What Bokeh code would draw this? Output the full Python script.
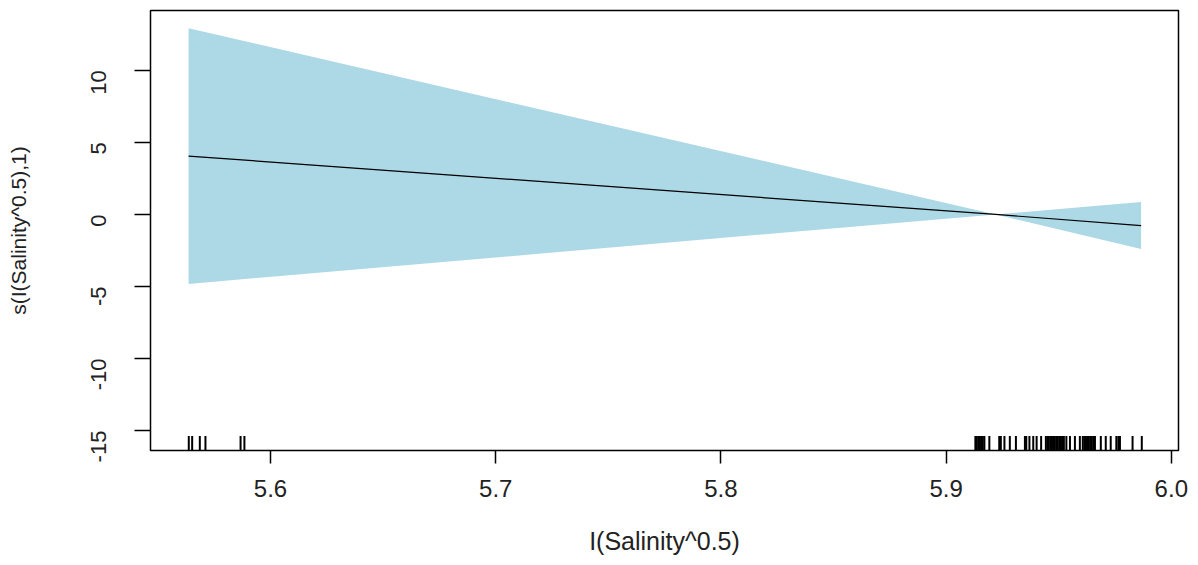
import math
from bokeh.plotting import figure
from bokeh.models import Range1d, FixedTicker, ColumnDataSource
from bokeh.embed import file_html
from bokeh.resources import INLINE

# ---- data ----
fit_x = [5.5636, 5.9220, 5.9866]
fit_y = [4.05, 0.00, -0.78]
band_upper = [12.92, 0.00, 0.86]
band_lower = [-4.82, 0.00, -2.40]

rug_x = [
    5.5637, 5.5652, 5.5686, 5.5711, 5.5867, 5.5884,
    5.9130, 5.9136, 5.9143, 5.9150, 5.9156, 5.9163, 5.9170, 5.9192,
    5.9236, 5.9243, 5.9259, 5.9283, 5.9310, 5.9350, 5.9356, 5.9370,
    5.9387, 5.9402, 5.9422, 5.9443, 5.9450, 5.9456, 5.9463, 5.9470,
    5.9476, 5.9483, 5.9490, 5.9496, 5.9503, 5.9510, 5.9516, 5.9523,
    5.9534, 5.9550, 5.9572, 5.9594, 5.9607, 5.9614, 5.9621, 5.9627,
    5.9634, 5.9641, 5.9647, 5.9654, 5.9661, 5.9687, 5.9709, 5.9731,
    5.9756, 5.9765, 5.9772, 5.9828, 5.9869,
]

x_ticks = [5.6, 5.7, 5.8, 5.9, 6.0]
x_tick_labels = ["5.6", "5.7", "5.8", "5.9", "6.0"]
y_ticks = [-15, -10, -5, 0, 5, 10]
y_tick_labels = ["-15", "-10", "-5", "0", "5", "10"]

x_title = "I(Salinity^0.5)"
y_title = "s(I(Salinity^0.5),1)"

X_MIN, X_MAX = 5.5467, 6.0032
Y_MIN, Y_MAX = -16.38, 14.15

p = figure(
    width=1190, height=557,
    x_range=Range1d(X_MIN, X_MAX), y_range=Range1d(Y_MIN, Y_MAX),
    output_backend="svg", toolbar_location=None,
    min_border_left=150, min_border_right=12,
    min_border_top=10, min_border_bottom=105,
)
p.background_fill_color = "white"
p.border_fill_color = "white"
p.outline_line_color = "black"
p.outline_line_width = 1.5
p.xgrid.visible = False
p.ygrid.visible = False

# confidence band
p.varea(x=fit_x, y1=band_lower, y2=band_upper, fill_color="#ADD8E6", fill_alpha=1.0)
# fitted line
p.line(fit_x, fit_y, line_color="black", line_width=1.2)

# rug
rug_len = 1.0
rug_src = ColumnDataSource(dict(
    x=rug_x,
    y0=[Y_MIN] * len(rug_x),
    y1=[Y_MIN + rug_len] * len(rug_x),
))
p.segment(x0="x", y0="y0", x1="x", y1="y1", source=rug_src,
          line_color="black", line_width=2)

font = "Liberation Sans"

# x axis
xa = p.xaxis[0]
xa.ticker = FixedTicker(ticks=x_ticks)
xa.major_label_overrides = {t: l for t, l in zip(x_ticks, x_tick_labels)}
xa.axis_line_color = None
xa.major_tick_in = 0
xa.major_tick_out = 13
xa.major_tick_line_color = "black"
xa.major_tick_line_width = 1.5
xa.minor_tick_line_color = None
xa.major_label_text_font = font
xa.major_label_text_font_size = "24px"
xa.major_label_text_color = "#222222"
xa.major_label_standoff = 16
xa.axis_label = x_title
xa.axis_label_text_font = font
xa.axis_label_text_font_size = "25px"
xa.axis_label_text_font_style = "normal"
xa.axis_label_text_color = "#222222"
xa.axis_label_standoff = 27

# y axis
ya = p.yaxis[0]
ya.ticker = FixedTicker(ticks=y_ticks)
ya.major_label_overrides = {t: l for t, l in zip(y_ticks, y_tick_labels)}
ya.axis_line_color = None
ya.major_tick_in = 0
ya.major_tick_out = 16
ya.major_tick_line_color = "black"
ya.major_tick_line_width = 1.5
ya.minor_tick_line_color = None
ya.major_label_orientation = math.pi / 2
ya.major_label_text_font = font
ya.major_label_text_font_size = "22px"
ya.major_label_text_color = "#222222"
ya.major_label_standoff = 36
ya.axis_label = y_title
ya.axis_label_text_font = font
ya.axis_label_text_font_size = "21px"
ya.axis_label_text_font_style = "normal"
ya.axis_label_text_color = "#222222"
ya.axis_label_standoff = 51

open("out.html", "w").write(file_html(p, INLINE))
